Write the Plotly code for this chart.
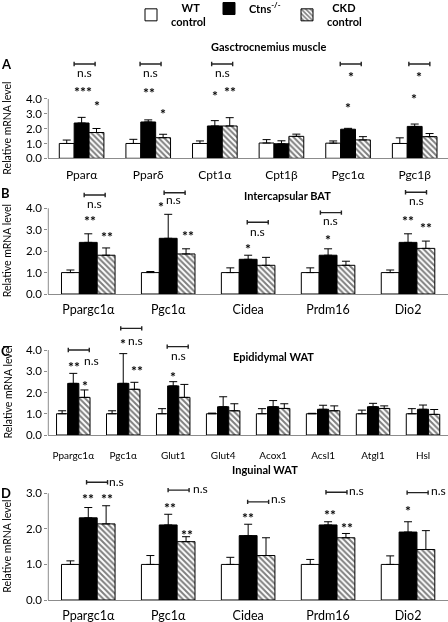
import plotly.graph_objects as go

W, H = 448, 622
FONT = "Lato"

# ---------------- data ----------------
# Panel A: Gasctrocnemius muscle
cats_A = ["Pparα", "Pparδ", "Cpt1α", "Cpt1β", "Pgc1α", "Pgc1β"]
wt_A = [1.0, 1.0, 1.0, 1.03, 1.02, 1.0]
wt_A_err = [0.23, 0.28, 0.17, 0.23, 0.15, 0.38]
ko_A = [2.38, 2.45, 2.18, 0.98, 1.96, 2.15]
ko_A_err = [0.38, 0.14, 0.36, 0.20, 0.06, 0.16]
ckd_A = [1.74, 1.39, 2.18, 1.48, 1.24, 1.46]
ckd_A_err = [0.27, 0.23, 0.56, 0.15, 0.22, 0.21]

# Panel B: Intercapsular BAT
cats_B = ["Ppargc1α", "Pgc1α", "Cidea", "Prdm16", "Dio2"]
wt_B = [1.0, 1.0, 1.0, 1.0, 1.0]
wt_B_err = [0.12, 0.05, 0.22, 0.22, 0.12]
ko_B = [2.41, 2.60, 1.62, 1.81, 2.41]
ko_B_err = [0.40, 1.12, 0.19, 0.30, 0.40]
ckd_B = [1.81, 1.87, 1.34, 1.34, 2.13]
ckd_B_err = [0.34, 0.24, 0.37, 0.19, 0.34]

# Panel C: Epididymal WAT
cats_C = ["Ppargc1α", "Pgc1α", "Glut1", "Glut4", "Acox1", "Acsl1", "Atgl1", "Hsl"]
wt_C = [1.0, 1.0, 1.0, 1.0, 1.0, 1.0, 1.0, 1.0]
wt_C_err = [0.14, 0.14, 0.24, 0.03, 0.24, 0.02, 0.17, 0.24]
ko_C = [2.43, 2.43, 2.31, 1.33, 1.33, 1.21, 1.33, 1.21]
ko_C_err = [0.47, 1.40, 0.20, 0.47, 0.29, 0.19, 0.16, 0.20]
ckd_C = [1.77, 2.15, 1.77, 1.14, 1.25, 1.14, 1.25, 0.97]
ckd_C_err = [0.35, 0.33, 0.61, 0.33, 0.22, 0.23, 0.12, 0.23]

# Panel D: Inguinal WAT
cats_D = ["Ppargc1α", "Pgc1α", "Cidea", "Prdm16", "Dio2"]
wt_D = [1.0, 1.0, 1.0, 1.0, 1.0]
wt_D_err = [0.10, 0.25, 0.20, 0.14, 0.24]
ko_D = [2.31, 2.11, 1.81, 2.11, 1.91]
ko_D_err = [0.29, 0.30, 0.32, 0.09, 0.29]
ckd_D = [2.14, 1.64, 1.25, 1.75, 1.42]
ckd_D_err = [0.51, 0.14, 0.50, 0.12, 0.53]

series_names = ["<b>\u00a0\u00a0\u00a0\u00a0WT<br>control</b>", "<b>Ctns<sup>-/-</sup></b>", "<b>\u00a0\u00a0CKD<br>control</b>"]

# significance marks: (category index, offset in category units, y value, text)
marks_A = [
    (0, 0.04, 5.77, "n.s"), (0, 0.02, 4.76, "***"), (0, 0.225, 3.86, "*"),
    (1, 0.035, 5.77, "n.s"), (1, 0.015, 4.74, "**"), (1, 0.225, 3.32, "*"),
    (2, 0.11, 5.77, "n.s"), (2, 0.0, 4.49, "*"), (2, 0.225, 4.79, "**"),
    (4, 0.04, 5.77, "*"), (4, 0.0, 3.71, "*"),
    (5, 0.07, 5.77, "*"), (5, -0.01, 4.27, "*"),
]
brackets_A = [(0, 0.045, 6.36), (1, 0.035, 6.36), (2, 0.11, 6.36), (4, 0.04, 6.36), (5, 0.07, 6.36)]

marks_B = [
    (0, 0.08, 4.23, "n.s"), (0, 0.02, 3.61, "**"), (0, 0.24, 2.86, "**"),
    (1, 0.06, 4.39, "n.s"), (1, -0.095, 4.25, "*"), (1, 0.25, 2.91, "**"),
    (2, 0.12, 2.91, "n.s"), (2, 0.0, 2.32, "*"),
    (3, 0.035, 3.42, "n.s"), (3, 0.0, 2.71, "*"),
    (4, 0.1, 4.36, "n.s"), (4, 0.0, 3.64, "**"), (4, 0.23, 3.27, "**"),
]
brackets_B = [(0, 0.08, 4.62), (1, 0.08, 4.73), (2, 0.12, 3.35), (3, 0.035, 3.80), (4, 0.1, 4.75)]

marks_C = [
    (0, 0.015, 3.40, "**"), (0, 0.37, 3.50, "n.s"), (0, 0.23, 2.54, "*"),
    (1, 0.0, 4.50, "*"), (1, 0.25, 4.47, "n.s"), (1, 0.27, 3.21, "**"),
    (2, 0.1, 3.73, "n.s"), (2, 0.0, 2.93, "*"),
]
brackets_C = [(0, 0.11, 4.0), (1, 0.16, 5.02), (2, 0.09, 4.16)]

marks_D = [
    (0, 0.35, 3.33, "n.s"), (0, 0.0, 2.98, "**"), (0, 0.23, 2.98, "**"),
    (1, 0.40, 3.14, "n.s"), (1, 0.02, 2.70, "**"), (1, 0.24, 1.94, "**"),
    (2, 0.375, 2.86, "n.s"), (2, 0.0, 2.44, "**"),
    (3, 0.355, 3.07, "n.s"), (3, 0.02, 2.53, "**"), (3, 0.24, 2.16, "**"),
    (4, 0.375, 3.07, "n.s"), (4, 0.0, 2.62, "*"),
]
brackets_D = [(0, 0.11, 3.31), (1, 0.13, 3.09), (2, 0.125, 2.76), (3, 0.105, 3.03), (4, 0.12, 3.02)]

# ---------------- layout geometry (pixels) ----------------
panels = [
    dict(cats=cats_A, wt=(wt_A, wt_A_err), ko=(ko_A, ko_A_err), ckd=(ckd_A, ckd_A_err),
         marks=marks_A, brackets=brackets_A, zero=158.3, ppu=14.83, top=56, ymax=4,
         title="Gasctrocnemius muscle", title_xy=(268, 46), letter="A", letter_y=63.5,
         tl_shift=5, tl_size=12),
    dict(cats=cats_B, wt=(wt_B, wt_B_err), ko=(ko_B, ko_B_err), ckd=(ckd_B, ckd_B_err),
         marks=marks_B, brackets=brackets_B, zero=294.0, ppu=21.42, top=185, ymax=4,
         title="Intercapsular BAT", title_xy=(287, 196), letter="B", letter_y=193,
         tl_shift=4, tl_size=12.5),
    dict(cats=cats_C, wt=(wt_C, wt_C_err), ko=(ko_C, ko_C_err), ckd=(ckd_C, ckd_C_err),
         marks=marks_C, brackets=brackets_C, zero=435.0, ppu=21.25, top=322, ymax=4,
         title="Epididymal WAT", title_xy=(273, 356), letter="C", letter_y=351,
         tl_shift=11, tl_size=10),
    dict(cats=cats_D, wt=(wt_D, wt_D_err), ko=(ko_D, ko_D_err), ckd=(ckd_D, ckd_D_err),
         marks=marks_D, brackets=brackets_D, zero=600.0, ppu=35.57, top=476, ymax=3,
         title="Inguinal WAT", title_xy=(265, 469), letter="D", letter_y=492.5,
         tl_shift=4, tl_size=12.5),
]

X0_PX = 48.3
fig = go.Figure()
shapes = []
annotations = []
layout_axes = {}
AXC = "#8c8c8c"

for k, p in enumerate(panels):
    sfx = "" if k == 0 else str(k + 1)
    xa, ya = "x" + sfx, "y" + sfx
    n = len(p["cats"])
    styles = [
        dict(color="white", line=dict(color="black", width=1)),
        dict(color="black", line=dict(color="black", width=1)),
        dict(color="white", line=dict(color="black", width=1),
             pattern=dict(shape="\\", fgcolor="black", bgcolor="white", size=4, solidity=0.5)),
    ]
    for name, (vals, errs), st in zip(series_names, [p["wt"], p["ko"], p["ckd"]], styles):
        fig.add_trace(go.Bar(
            x=p["cats"], y=vals, name=name, marker=st,
            error_y=dict(type="data", array=errs, arrayminus=[0] * len(errs), symmetric=False,
                         color="black", thickness=1, width=4),
            xaxis=xa, yaxis=ya, showlegend=(k == 0), legendgroup=name,
        ))
    ytop = (p["zero"] - p["top"]) / p["ppu"]
    layout_axes["xaxis" + sfx] = dict(
        domain=[X0_PX / W, 1.0], anchor=ya, range=[-0.5, n - 0.5], type="category",
        showline=True, linecolor=AXC, linewidth=1, ticks="", showgrid=False, zeroline=False,
        tickfont=dict(size=p["tl_size"], color="black", family=FONT), ticklabelstandoff=p["tl_shift"],
        fixedrange=True,
    )
    layout_axes["yaxis" + sfx] = dict(
        domain=[1 - p["zero"] / H, 1 - p["top"] / H], anchor=xa, range=[0, ytop],
        tickvals=list(range(p["ymax"] + 1)), tickformat=".1f", showline=False,
        ticks="outside", ticklen=3, tickcolor=AXC, showgrid=False, zeroline=False,
        tickfont=dict(size=11.5, color="black", family=FONT), fixedrange=True,
    )
    # y axis line from 0 to max tick
    shapes.append(dict(type="line", xref=xa + " domain", yref=ya, x0=0, x1=0, y0=0, y1=p["ymax"],
                       line=dict(color=AXC, width=1)))
    # brackets
    spacing_px = (W - X0_PX) / n
    hw = 10.5 / spacing_px
    d = 2.2 / p["ppu"]
    for (ci, off, yv) in p["brackets"]:
        xl, xr = ci + off - hw, ci + off + hw
        for seg in [(xl, yv, xr, yv), (xl, yv - d, xl, yv + d), (xr, yv - d, xr, yv + d)]:
            shapes.append(dict(type="line", xref=xa, yref=ya, x0=seg[0], y0=seg[1], x1=seg[2], y1=seg[3],
                               line=dict(color="#222", width=1.4)))
    for (ci, off, yv, txt) in p["marks"]:
        is_star = txt.startswith("*")
        annotations.append(dict(
            x=ci + off, y=yv, xref=xa, yref=ya,
            text=("<b>" + txt + "</b>") if is_star else txt, showarrow=False,
            xanchor="center", yanchor="middle", yshift=-4 if is_star else 0,
            font=dict(size=14 if is_star else 12, color="black", family=FONT),
        ))
    # panel title
    tx, ty = p["title_xy"]
    annotations.append(dict(x=tx / W, y=1 - ty / H, xref="paper", yref="paper", text="<b>" + p["title"] + "</b>",
                            showarrow=False, xanchor="center", yanchor="middle",
                            font=dict(size=11, color="black", family=FONT)))
    # panel letter
    annotations.append(dict(x=-1 / W, y=1 - p["letter_y"] / H, xref="paper", yref="paper", text="<b>" + p["letter"] + "</b>",
                            showarrow=False, xanchor="left", yanchor="middle",
                            font=dict(size=13, color="black", family=FONT)))
    # y axis title
    annotations.append(dict(x=7 / W, y=p["ymax"] / 2.0, xref="paper", yref=ya, text="Relative mRNA level",
                            textangle=-90, showarrow=False, xanchor="center", yanchor="middle",
                            font=dict(size=10.5, color="black", family=FONT)))

fig.update_layout(
    width=W, height=H, margin=dict(l=0, r=0, t=0, b=0, autoexpand=False),
    paper_bgcolor="white", plot_bgcolor="white",
    font=dict(family=FONT, color="black"),
    barmode="group", bargap=0.33, bargroupgap=0,
    showlegend=True,
    legend=dict(orientation="h", x=131 / W, y=1.0096, xanchor="left", yanchor="top",
                entrywidth=33, entrywidthmode="pixels", font=dict(size=11, family=FONT, color="black"),
                valign="middle", bgcolor="rgba(0,0,0,0)", tracegroupgap=0),
    shapes=shapes, annotations=annotations,
    **layout_axes,
)

fig.write_html(
    "out.html", config={"displayModeBar": False},
    post_script=("document.body.style.margin='0px';"
                 "document.documentElement.style.overflow='hidden';"
                 "document.querySelectorAll('.svg-container').forEach(function(s){s.style.willChange='transform';});"),
)
